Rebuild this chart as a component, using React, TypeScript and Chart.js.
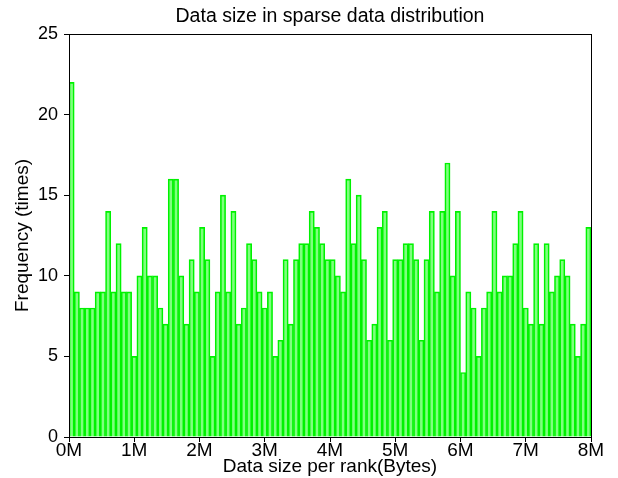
import React, { useEffect, useRef } from "react";
import { Chart, registerables } from "chart.js";

Chart.register(...registerables);

// 100 bins across 0M..8M
const frequencies: number[] = [
  22, 9, 8, 8, 8, 9, 9, 14, 9, 12,
  9, 9, 5, 10, 13, 10, 10, 8, 7, 16,
  16, 10, 7, 11, 9, 13, 11, 5, 9, 15,
  9, 14, 7, 8, 12, 11, 9, 8, 9, 5,
  6, 11, 7, 11, 12, 12, 14, 13, 12, 11,
  11, 10, 9, 16, 12, 15, 11, 6, 7, 13,
  14, 6, 11, 11, 12, 12, 11, 6, 11, 14,
  9, 14, 17, 10, 14, 4, 9, 8, 5, 8,
  9, 14, 9, 10, 10, 12, 14, 8, 7, 12,
  7, 12, 9, 10, 11, 10, 7, 5, 7, 13,
];
const xMinM = 0;
const xMaxM = 8;
const xTickLabels: string[] = ["0M", "1M", "2M", "3M", "4M", "5M", "6M", "7M", "8M"];
const yTicks: number[] = [0, 5, 10, 15, 20, 25];
const titleText = "Data size in sparse data distribution";
const xTitle = "Data size per rank(Bytes)";
const yTitle = "Frequency (times)";

const binWidth = (xMaxM - xMinM) / frequencies.length;
const binCenters = frequencies.map((_, i) => xMinM + (i + 0.5) * binWidth);

const FONT = "'Liberation Sans', Arial, Helvetica, sans-serif";

const frame = {
  id: "frame",
  afterDatasetsDraw(chart: any) {
    const { ctx, chartArea } = chart;
    const l = Math.round(chartArea.left) + 0.5;
    const t = Math.round(chartArea.top) + 0.5;
    const r = Math.round(chartArea.right) + 0.5;
    const b = Math.round(chartArea.bottom) + 0.5;
    ctx.save();
    ctx.strokeStyle = "#000";
    ctx.lineWidth = 1;
    ctx.strokeRect(l, t, r - l, b - t);
    ctx.restore();
  },
  afterDraw(chart: any) {
    const { ctx, chartArea } = chart;
    ctx.save();
    ctx.fillStyle = "#000";
    ctx.font = `19.5px ${FONT}`;
    ctx.textAlign = "center";
    ctx.textBaseline = "alphabetic";
    ctx.fillText(titleText, (chartArea.left + chartArea.right) / 2, 22);
    ctx.restore();
  },
};

export default function App() {
  const ref = useRef<HTMLCanvasElement>(null);
  useEffect(() => {
    if (!ref.current) return;
    const chart = new Chart(ref.current, {
      type: "bar",
      data: {
        datasets: [
          {
            data: frequencies.map((f, i) => ({ x: binCenters[i], y: f })),
            backgroundColor: "rgba(0,255,0,0.5)",
            borderColor: "#00f000",
            borderWidth: 1,
            barPercentage: 1,
            categoryPercentage: 1,
            grouped: false,
          },
        ],
      },
      options: {
        animation: false,
        responsive: false,
        maintainAspectRatio: false,
        layout: { padding: { left: 0, right: 27, top: 34, bottom: 0 } },
        plugins: {
          legend: { display: false },
          tooltip: { enabled: false },
          title: { display: false },
        },
        scales: {
          x: {
            type: "linear",
            min: xMinM,
            max: xMaxM,
            offset: false,
            afterFit(scale: any) {
              scale.height = 41;
            },
            afterBuildTicks(scale: any) {
              scale.ticks = xTickLabels.map((_, i) => ({ value: xMinM + i }));
            },
            ticks: {
              color: "#000",
              font: { family: FONT, size: 19 },
              padding: -3,
              maxRotation: 0,
              autoSkip: false,
              callback: (_v: any, i: number) => xTickLabels[i],
            },
            grid: {
              display: true,
              offset: false,
              drawOnChartArea: false,
              drawTicks: true,
              tickLength: 5,
              color: "#000",
            },
            border: { display: false },
            title: {
              display: true,
              text: xTitle,
              color: "#000",
              font: { family: FONT, size: 19, lineHeight: 1.2 },
              padding: { top: 0, bottom: 0 },
            },
          },
          y: {
            type: "linear",
            min: yTicks[0],
            max: yTicks[yTicks.length - 1],
            afterFit(scale: any) {
              scale.width = 69;
            },
            afterBuildTicks(scale: any) {
              scale.ticks = yTicks.map((v) => ({ value: v }));
            },
            ticks: {
              color: "#000",
              font: { family: FONT, size: 18 },
              padding: 6,
            },
            grid: {
              display: true,
              drawOnChartArea: false,
              drawTicks: true,
              tickLength: 5,
              color: "#000",
            },
            border: { display: false },
            title: {
              display: true,
              text: yTitle,
              color: "#000",
              font: { family: FONT, size: 19, lineHeight: 1.2 },
              padding: { top: 11, bottom: 0 },
            },
          },
        },
      },
      plugins: [frame],
    } as any);
    return () => chart.destroy();
  }, []);
  return (
    <div style={{ position: "absolute", left: 0, top: 0, width: 618, height: 478, background: "#fff" }}>
      <canvas ref={ref} width={618} height={478} style={{ display: "block", width: 618, height: 478 }} />
    </div>
  );
}
